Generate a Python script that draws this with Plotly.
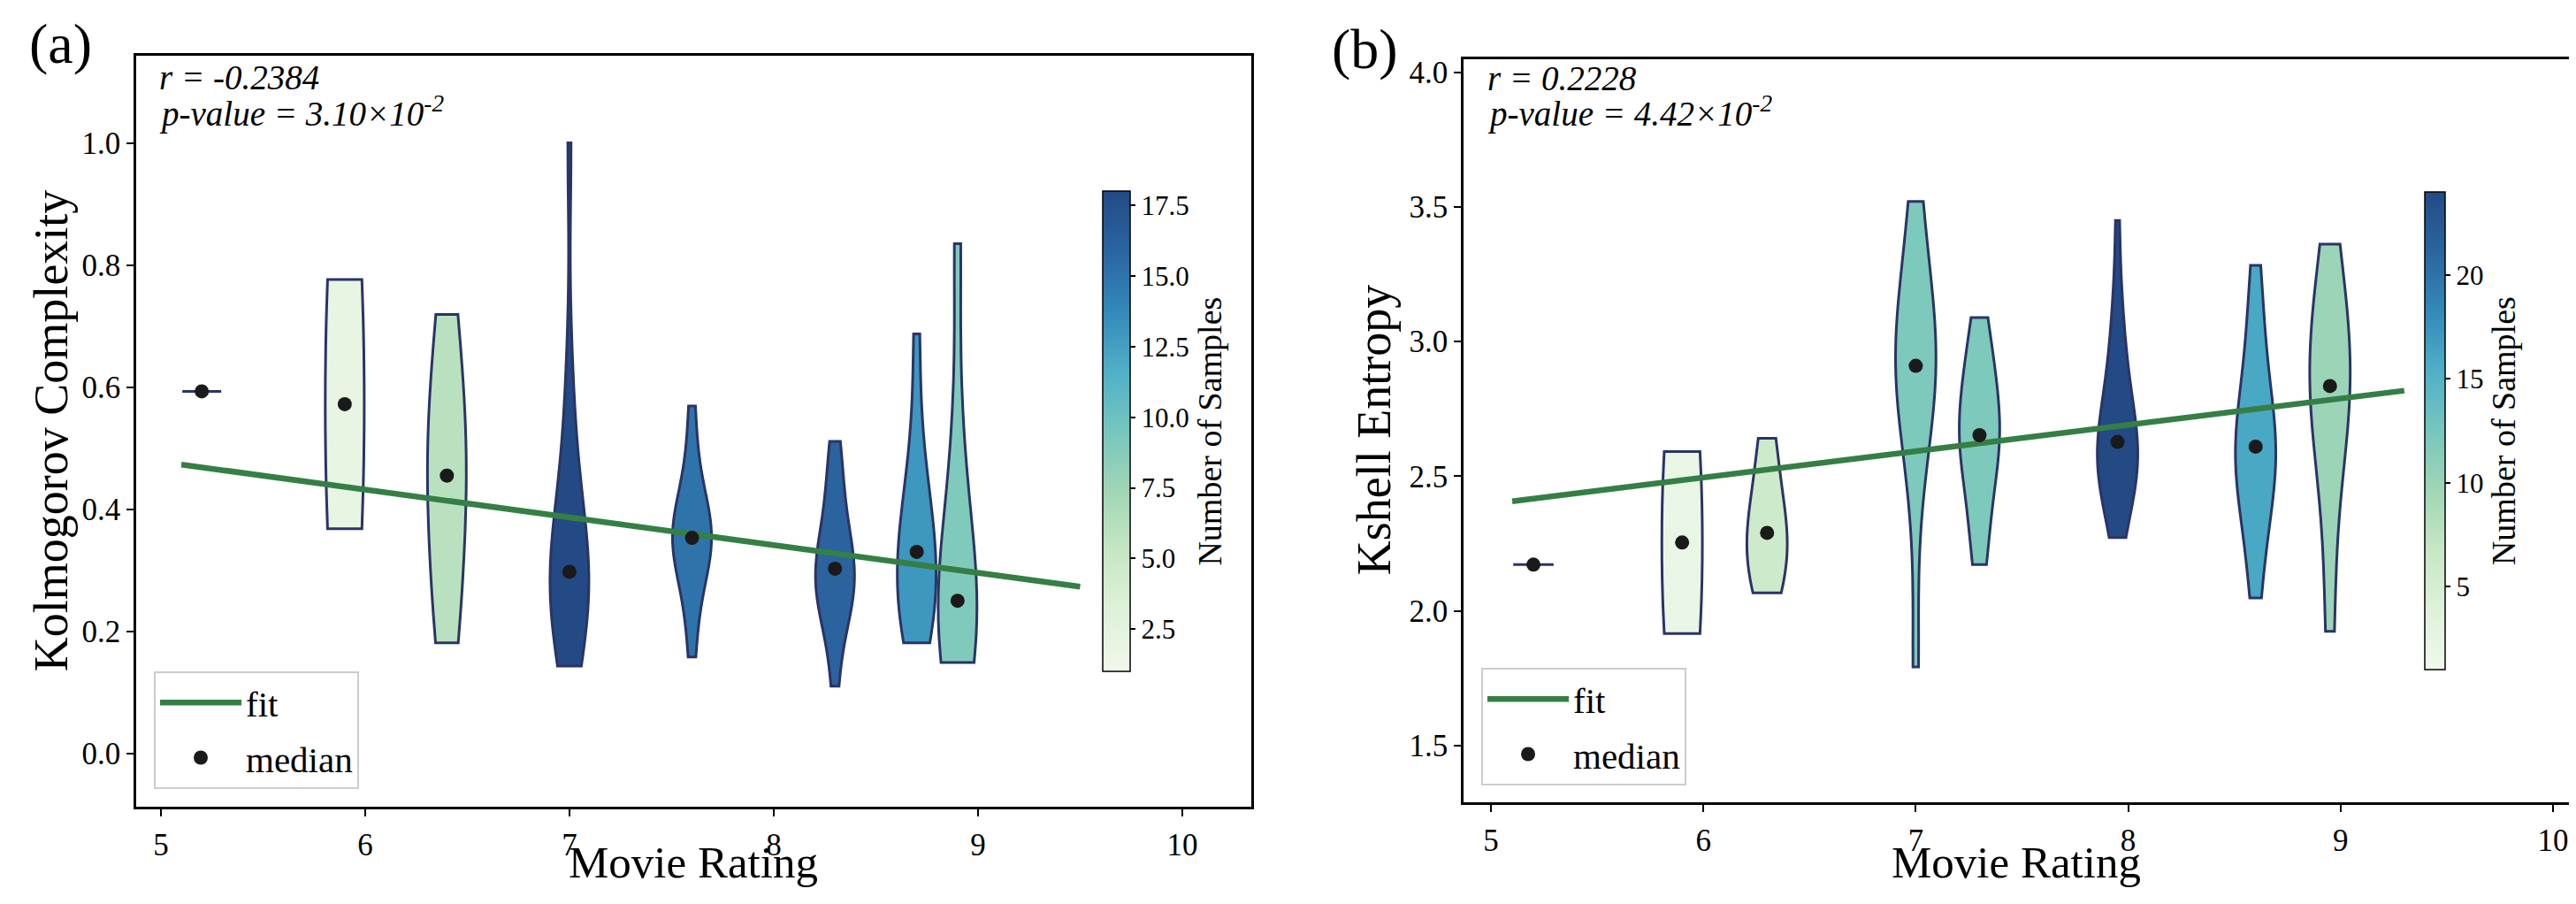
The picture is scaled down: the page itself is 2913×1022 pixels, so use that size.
import numpy as np
import plotly.graph_objects as go
from plotly.colors import sample_colorscale

# panel (a): Kolmogorov complexity per movie rating
rating_a = [5.2, 5.9, 6.4, 7.0, 7.6, 8.3, 8.7, 8.9]
kc_samples = [
    [0.593],
    [0.368, 0.776],
    [0.181, 0.30, 0.42, 0.49, 0.58, 0.719],
    [0.143, 0.18, 0.20, 0.22, 0.24, 0.25, 0.27, 0.28, 0.29, 0.305, 0.32, 0.34,
     0.37, 0.40, 0.45, 0.52, 0.62, 1.0],
    [0.158, 0.23, 0.27, 0.30, 0.32, 0.335, 0.345, 0.353, 0.365, 0.375, 0.39,
     0.41, 0.44, 0.49, 0.569],
    [0.110, 0.19, 0.22, 0.24, 0.26, 0.27, 0.28, 0.295, 0.31, 0.32, 0.34, 0.36,
     0.39, 0.43, 0.47, 0.511],
    [0.181, 0.20, 0.22, 0.25, 0.27, 0.29, 0.33, 0.35, 0.37, 0.40, 0.45, 0.53, 0.687],
    [0.149, 0.17, 0.20, 0.23, 0.25, 0.29, 0.36, 0.50, 0.835],
]
fit_a_x = [5.1, 9.5]
fit_a_y = [0.473, 0.273]
r_a, p_a, e_a = "-0.2384", "3.10", "-2"

# panel (b): Kshell entropy per movie rating
rating_b = [5.2, 5.9, 6.3, 7.0, 7.3, 7.95, 8.6, 8.95]
ke_samples = [
    [2.172],
    [1.916, 2.592],
    [2.067, 2.16, 2.25, 2.33, 2.45, 2.641],
    [1.792, 2.45, 2.68, 2.78, 2.85, 2.89, 2.93, 3.00, 3.08, 3.17, 3.32, 3.52],
    [2.172, 2.30, 2.43, 2.53, 2.60, 2.64, 2.665, 2.74, 2.81, 2.88, 2.97, 3.089],
    [2.272, 2.32, 2.38, 2.42, 2.46, 2.49, 2.51, 2.53, 2.55, 2.57, 2.59, 2.61,
     2.645, 2.67, 2.70, 2.73, 2.77, 2.81, 2.86, 2.92, 3.00, 3.08, 3.20, 3.450],
    [2.048, 2.20, 2.32, 2.40, 2.46, 2.51, 2.55, 2.59, 2.63, 2.67, 2.72, 2.79,
     2.88, 2.99, 3.12, 3.283],
    [1.924, 2.35, 2.60, 2.72, 2.80, 2.87, 2.96, 3.06, 3.18, 3.362],
]
fit_b_x = [5.1, 9.3]
fit_b_y = [2.407, 2.818]
r_b, p_b, e_b = "0.2228", "4.42", "-2"

W, H = 2913, 1022
FONT = "Liberation Serif, Times New Roman, serif"
EDGE = "#2a3466"
GREEN = "#357f45"
VW = 0.19  # violin width in rating units
cmap = [[0.0, "#f0f8eb"], [0.125, "#dff1da"], [0.25, "#c6e7c4"], [0.375, "#a1d6b5"],
        [0.5, "#76c6be"], [0.625, "#4fb0c7"], [0.75, "#3389b9"], [0.875, "#2a65a0"],
        [1.0, "#234a85"]]

fig = go.Figure()


def add_panel(xs, samples, fx, fy, xa, ya, leg, cb):
    counts = [len(s) for s in samples]
    cmin, cmax = min(counts), max(counts)
    for x, s, n in zip(xs, samples, counts):
        col = sample_colorscale(cmap, [(n - cmin) / (cmax - cmin)])[0]
        if n == 1:
            # a single sample collapses to a flat line
            fig.add_trace(go.Scatter(x=[x - VW / 2, x + VW / 2], y=[s[0], s[0]], mode="lines",
                                     line=dict(color=EDGE, width=3), xaxis=xa, yaxis=ya,
                                     showlegend=False, hoverinfo="skip"))
            continue
        bw = np.std(s, ddof=1) * n ** (-0.2)  # scott, like matplotlib
        fig.add_trace(go.Violin(x=[x] * n, y=s, width=VW, spanmode="hard", scalemode="width",
                                bandwidth=bw, fillcolor=col, opacity=1,
                                line=dict(color=EDGE, width=3), points=False,
                                box_visible=False, meanline_visible=False,
                                xaxis=xa, yaxis=ya, showlegend=False))
    fig.add_trace(go.Scatter(x=fx, y=fy, mode="lines", name="fit", legendgroup="fit",
                             line=dict(color=GREEN, width=6.5), xaxis=xa, yaxis=ya, legend=leg))
    fig.add_trace(go.Scatter(x=xs, y=[np.median(s) for s in samples], mode="markers",
                             name="median", legendgroup="median",
                             marker=dict(color="#1a1a1a", size=16),
                             xaxis=xa, yaxis=ya, legend=leg))
    fig.add_trace(go.Scatter(x=xs, y=[np.median(s) for s in samples], mode="markers",
                             marker=dict(size=0.1, opacity=0, color=counts, colorscale=cmap,
                                         cmin=cmin, cmax=cmax, showscale=True, colorbar=cb),
                             xaxis=xa, yaxis=ya, showlegend=False, hoverinfo="skip"))


cb_common = dict(xanchor="left", yanchor="middle", xpad=0, ypad=0, outlinewidth=1.5,
                 outlinecolor="black", ticks="outside", ticklen=6, tickwidth=1.5,
                 tickcolor="black", tickfont=dict(size=31, family=FONT),
                 title=dict(text="Number of Samples", side="right", font=dict(size=38, family=FONT)))

add_panel(rating_a, kc_samples, fit_a_x, fit_a_y, "x", "y", "legend",
          dict(cb_common, x=1239 / W, y=1 - 477.5 / H, len=545 / H, thickness=31,
               dtick=2.5, tickformat=".1f"))
add_panel(rating_b, ke_samples, fit_b_x, fit_b_y, "x2", "y2", "legend2",
          dict(cb_common, x=2734 / W, y=1 - 477 / H, len=542 / H, thickness=23, dtick=5))

axis = dict(showline=True, mirror=True, linecolor="black", linewidth=2.5, ticks="outside",
            ticklen=8, tickwidth=2, tickcolor="black", showgrid=False, zeroline=False,
            tickfont=dict(size=35, family=FONT), type="linear")

legend_common = dict(xanchor="left", yanchor="top", bordercolor="#cccccc", borderwidth=2,
                     bgcolor="white", font=dict(size=41, family=FONT), itemwidth=92,
                     tracegroupgap=6)

fig.update_layout(
    width=W, height=H, margin=dict(l=0, r=0, t=0, b=0),
    paper_bgcolor="white", plot_bgcolor="white", violinmode="overlay",
    font=dict(family=FONT, color="black"),
    xaxis=dict(axis, domain=[146 / W, 1407 / W], range=[4.879, 10.338], dtick=1,
               anchor="y", ticklabelstandoff=2),
    yaxis=dict(axis, domain=[1 - 904 / H, 1 - 51 / H], range=[-0.088, 1.143], dtick=0.2,
               tickformat=".1f", anchor="x"),
    xaxis2=dict(axis, domain=[1647 / W, 2897 / W], range=[4.871, 10.075], dtick=1,
                anchor="y2", ticklabelstandoff=2),
    yaxis2=dict(axis, domain=[1 - 899 / H, 1 - 55 / H], range=[1.288, 4.049], dtick=0.5,
                tickformat=".1f", anchor="x2"),
    legend=dict(legend_common, x=166 / W, y=1 - 750 / H),
    legend2=dict(legend_common, x=1667 / W, y=1 - 746 / H),
)

# text, x px, y px, x anchor, y anchor, size, italic, angle
notes = [
    ("(a)", 60, 0, "center", "top", 64, False, 0),
    ("(b)", 1535, 6, "center", "top", 64, False, 0),
    ("r = " + r_a, 170, 76, "left", "middle", 39, True, 0),
    ("p-value = %s×10<sup>%s</sup>" % (p_a, e_a), 170, 115, "left", "middle", 39, True, 0),
    ("r = " + r_b, 1672, 77, "left", "middle", 39, True, 0),
    ("p-value = %s×10<sup>%s</sup>" % (p_b, e_b), 1672, 115, "left", "middle", 39, True, 0),
    ("Movie Rating", 776, 967, "center", "middle", 51, False, 0),
    ("Movie Rating", 2272, 967, "center", "middle", 51, False, 0),
    ("Kolmogorov Complexity", 50, 477, "center", "middle", 54, False, -90),
    ("Kshell Entropy", 1546, 476, "center", "middle", 54, False, -90),
]
for txt, x, y, xa, ya, size, ital, ang in notes:
    fig.add_annotation(text=txt, x=x / W, y=1 - y / H, xref="paper", yref="paper", xanchor=xa,
                       yanchor=ya, showarrow=False, textangle=ang,
                       font=dict(size=size, family=FONT, color="black",
                                 style="italic" if ital else "normal"))

fig.write_html("out.html")
